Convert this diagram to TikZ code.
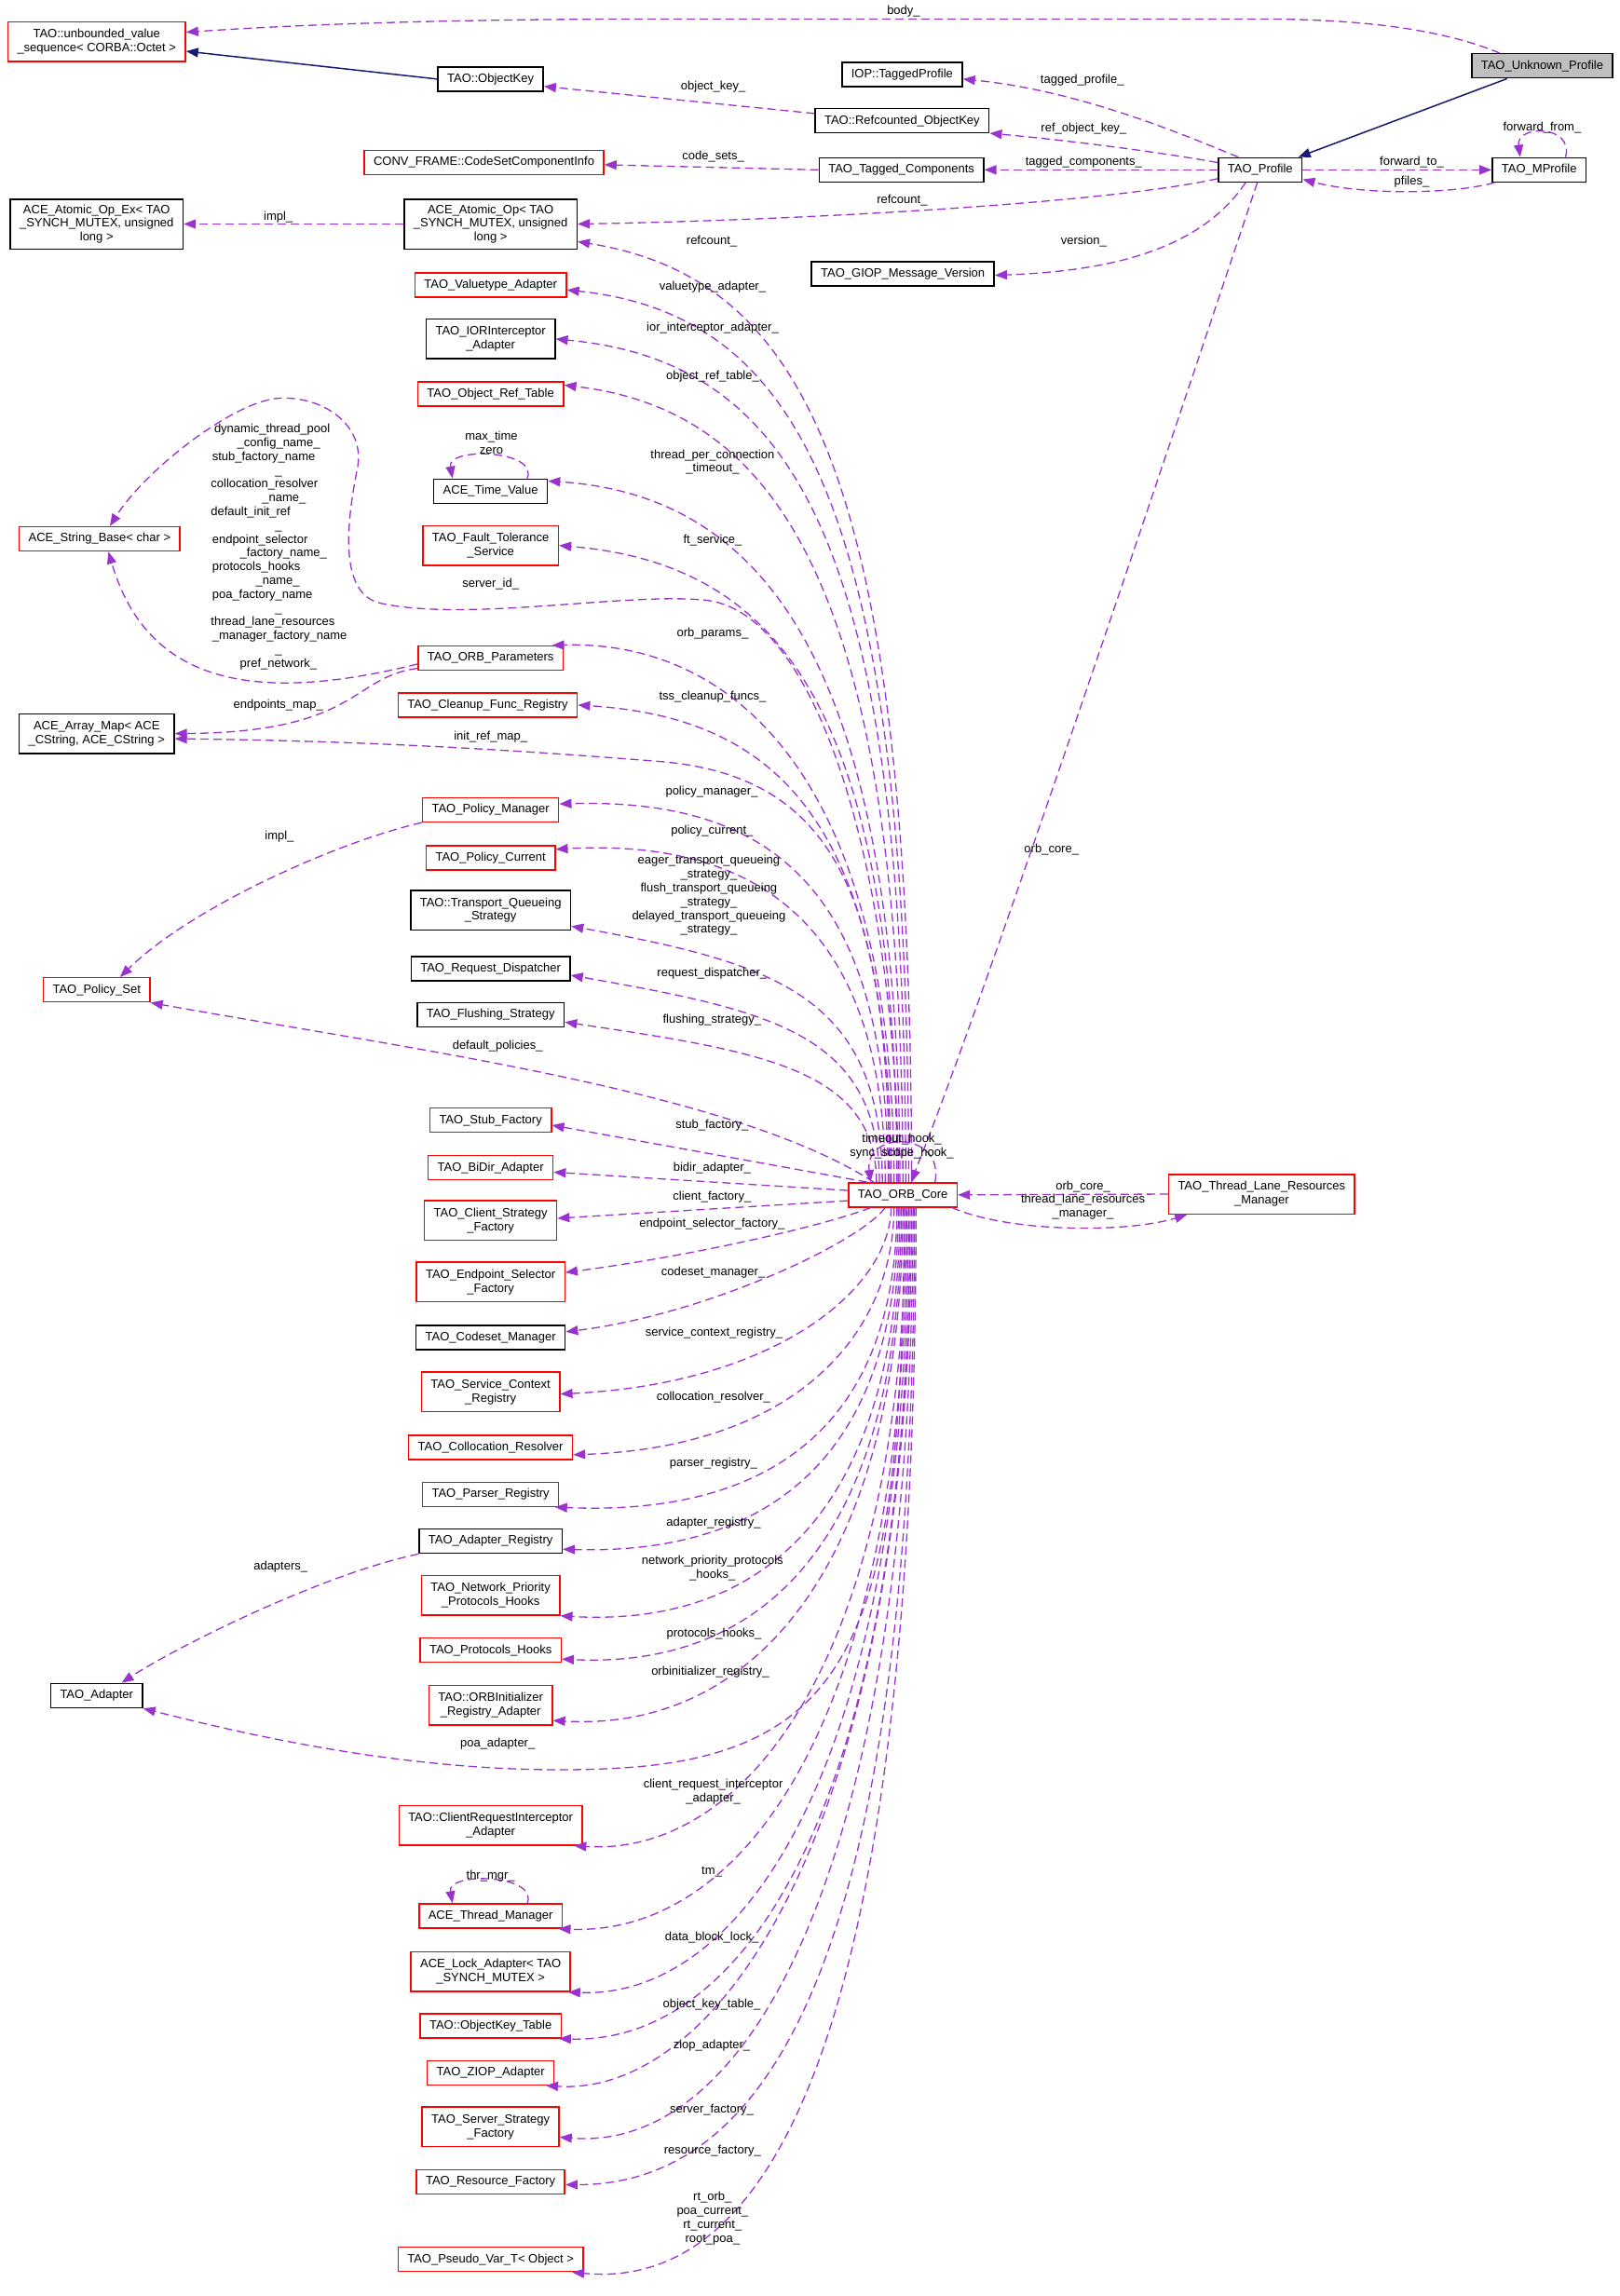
\documentclass[tikz,border=0pt]{standalone}
\usepackage{fontspec}
\setmainfont{Liberation Sans}
\usetikzlibrary{arrows.meta,calc}
\definecolor{depc}{HTML}{9A32CD}
\definecolor{navyc}{HTML}{191970}
\definecolor{boxred}{HTML}{FF0000}
\definecolor{grayfill}{HTML}{BFBFBF}
\newcommand\lblfont{\fontsize{13pt}{14.8pt}\selectfont}
\begin{document}
\begin{tikzpicture}[x=1.5723pt,y=-1.5723pt,
  box/.style={rectangle,draw,line width=1.5pt,font=\lblfont,align=center,inner xsep=10pt,inner ysep=0pt,minimum height=26pt,fill=white},
  rbox/.style={box,draw=boxred},
  bbox/.style={box,draw=black},
  two/.style={minimum height=42.5pt},
  three/.style={minimum height=53.5pt},
  dep/.style={draw=depc,line width=1.3pt,dash pattern=on 9pt off 5pt,-{Triangle[length=13pt,width=10pt]}},
  inh/.style={draw=navyc,line width=1.5pt,-{Triangle[length=13pt,width=10pt]}},
  lab/.style={font=\lblfont,inner sep=0pt,align=center}]
\useasboundingbox (0,0) rectangle (1106,1568);
\fill[white] (0,0) rectangle (1106,1568);

% ---------- nodes ----------
\node[rbox,two] (unb) at (66,28.5) {TAO::unbounded\_value\\\_sequence< CORBA::Octet >};
\node[bbox] (objkey) at (335,54) {TAO::ObjectKey};
\node[bbox] (iop) at (616,51) {IOP::TaggedProfile};
\node[bbox] (refobj) at (616,82.5) {TAO::Refcounted\_ObjectKey};
\node[bbox,fill=grayfill] (unknown) at (1053,45) {TAO\_Unknown\_Profile};
\node[bbox] (profile) at (860.5,116) {TAO\_Profile};
\node[bbox] (mprofile) at (1051,116) {TAO\_MProfile};
\node[rbox] (codeset) at (330.5,111) {CONV\_FRAME::CodeSetComponentInfo};
\node[bbox] (tagged) at (615.5,116) {TAO\_Tagged\_Components};
\node[bbox,three] (atomicex) at (66,153) {ACE\_Atomic\_Op\_Ex< TAO\\\_SYNCH\_MUTEX, unsigned\\long >};
\node[bbox,three] (atomic) at (335,153) {ACE\_Atomic\_Op< TAO\\\_SYNCH\_MUTEX, unsigned\\long >};
\node[bbox] (giop) at (616.5,187) {TAO\_GIOP\_Message\_Version};
\node[rbox] (valuetype) at (335,194.5) {TAO\_Valuetype\_Adapter};
\node[bbox,two] (ior) at (335,231.5) {TAO\_IORInterceptor\\\_Adapter};
\node[rbox] (objref) at (335,269) {TAO\_Object\_Ref\_Table};
\node[bbox] (timeval) at (335,335.5) {ACE\_Time\_Value};
\node[rbox] (strbase) at (68,368) {ACE\_String\_Base< char >};
\node[rbox,two] (ft) at (335,372.5) {TAO\_Fault\_Tolerance\\\_Service};
\node[rbox] (orbparams) at (335,449.5) {TAO\_ORB\_Parameters};
\node[bbox,two] (arraymap) at (66,501) {ACE\_Array\_Map< ACE\\\_CString, ACE\_CString >};
\node[rbox] (cleanup) at (333,481.5) {TAO\_Cleanup\_Func\_Registry};
\node[rbox] (polman) at (335,553) {TAO\_Policy\_Manager};
\node[rbox] (polcur) at (335,586) {TAO\_Policy\_Current};
\node[bbox,two] (tqs) at (335,621.5) {TAO::Transport\_Queueing\\\_Strategy};
\node[bbox] (reqdisp) at (335,661.5) {TAO\_Request\_Dispatcher};
\node[bbox] (flush) at (335,693) {TAO\_Flushing\_Strategy};
\node[rbox] (polset) at (66,676) {TAO\_Policy\_Set};
\node[rbox] (stub) at (335,765) {TAO\_Stub\_Factory};
\node[rbox] (bidir) at (335,797.5) {TAO\_BiDir\_Adapter};
\node[rbox,two] (clientstrat) at (335,833.5) {TAO\_Client\_Strategy\\\_Factory};
\node[rbox] (orbcore) at (616.5,816) {TAO\_ORB\_Core};
\node[rbox,two] (tlrm) at (861.5,815.5) {TAO\_Thread\_Lane\_Resources\\\_Manager};
\node[rbox,two] (endpoint) at (335,875.5) {TAO\_Endpoint\_Selector\\\_Factory};
\node[bbox] (codesetmgr) at (335,913.5) {TAO\_Codeset\_Manager};
\node[rbox,two] (scr) at (335,950.5) {TAO\_Service\_Context\\\_Registry};
\node[rbox] (collres) at (335,988.5) {TAO\_Collocation\_Resolver};
\node[rbox] (parser) at (335,1020.5) {TAO\_Parser\_Registry};
\node[bbox] (adapreg) at (335,1052.5) {TAO\_Adapter\_Registry};
\node[rbox,two] (netprio) at (335,1089.5) {TAO\_Network\_Priority\\\_Protocols\_Hooks};
\node[rbox] (protohooks) at (335,1127) {TAO\_Protocols\_Hooks};
\node[rbox,two] (orbinit) at (335,1164.5) {TAO::ORBInitializer\\\_Registry\_Adapter};
\node[bbox] (adapter) at (66,1158) {TAO\_Adapter};
\node[rbox,two] (cri) at (335,1246.5) {TAO::ClientRequestInterceptor\\\_Adapter};
\node[rbox] (thrmgr) at (335,1308.5) {ACE\_Thread\_Manager};
\node[rbox,two] (lockad) at (335,1346.5) {ACE\_Lock\_Adapter< TAO\\\_SYNCH\_MUTEX >};
\node[rbox] (okt) at (335,1383.5) {TAO::ObjectKey\_Table};
\node[rbox] (ziop) at (335,1415.5) {TAO\_ZIOP\_Adapter};
\node[rbox,two] (serverstrat) at (335,1452.5) {TAO\_Server\_Strategy\\\_Factory};
\node[rbox] (resfac) at (335,1490) {TAO\_Resource\_Factory};
\node[rbox] (pseudovar) at (335,1543) {TAO\_Pseudo\_Var\_T< Object >};

% ---------- inheritance ----------
\draw[inh] ($(unknown.south)+(-24,0)$) -- ($(profile.north east)+(-3,0)$);
\draw[inh] (objkey.west) -- ($(unb.east)+(0,6.5)$);

% ---------- top area ----------
\draw[dep] ($(unknown.north)+(-29,0)$) .. controls (985,20) and (930,13) .. (860,13) -- (450,13) .. controls (300,13) and (200,17) .. ($(unb.east)+(0,-6.5)$);
\draw[dep] ($(refobj.west)+(0,-5)$) -- ($(objkey.east)+(0,5)$);
\draw[dep] ($(profile.north)+(-15,0)$) .. controls (815,95) and (740,62) .. ($(iop.east)+(0,3)$);
\draw[dep] ($(profile.west)+(0,-5)$) .. controls (780,102) and (720,95) .. ($(refobj.east)+(0,8.5)$);
\draw[dep] (profile.west) -- (tagged.east);
\draw[dep] (tagged.west) -- ($(codeset.east)+(0,1.5)$);
\draw[dep] (atomic.west) -- (atomicex.east);
\draw[dep] ($(profile.west)+(0,6)$) .. controls (760,138) and (560,150) .. (atomic.east);
\draw[dep] ($(profile.south)+(-10,0)$) .. controls (820,170) and (760,185) .. ($(giop.east)+(0,1)$);
\draw[dep] ($(profile.south)+(-2,0)$) .. controls (650,750) and (630,785) .. ($(orbcore.north)+(6,0)$);
\draw[dep] (profile.east) -- (mprofile.west);
\draw[dep] ($(mprofile.south west)+(2,0)$) .. controls (990,133) and (930,133) .. ($(profile.east)+(0,6.5)$);
\draw[dep] ($(mprofile.north)+(18,0)$) .. controls (1075,85) and (1035,85) .. ($(mprofile.north)+(-13,0)$);

% ---------- ORB core upward edges ----------
\draw[dep] ($(orbcore.north)+(6,0)$) .. controls (622,325) and (550,190) .. ($(atomic.east)+(0,12)$);
\draw[dep] ($(orbcore.north)+(4,0)$) .. controls (620,350) and (548,215) .. ($(valuetype.east)+(0,3.5)$);
\draw[dep] ($(orbcore.north)+(2,0)$) .. controls (618,375) and (545,247) .. (ior.east);
\draw[dep] ($(orbcore.north)+(0,0)$) .. controls (616,400) and (530,280) .. ($(objref.east)+(0,-6)$);
\draw[dep] ($(orbcore.north)+(-2,0)$) .. controls (614,450) and (520,338) .. ($(timeval.east)+(0,-7)$);
\draw[dep] ($(orbcore.north)+(-4,0)$) .. controls (612,480) and (530,385) .. (ft.east);
\draw[dep] ($(orbcore.north)+(-6,0)$) .. controls (610,530) and (500,437) .. ($(orbparams.north east)+(-8,0)$);
\draw[dep] ($(orbcore.north)+(-8,0)$) .. controls (608,560) and (530,490) .. (cleanup.east);
\draw[dep] ($(orbcore.north)+(-10,0)$) .. controls (606,610) and (530,545) .. ($(polman.east)+(0,-4)$);
\draw[dep] ($(orbcore.north)+(-12,0)$) .. controls (604,640) and (525,572) .. ($(polcur.east)+(0,-6)$);
\draw[dep] ($(orbcore.north)+(-14,0)$) .. controls (602,680) and (530,658) .. ($(tqs.east)+(0,11)$);
\draw[dep] ($(orbcore.north)+(-16,0)$) .. controls (600,705) and (525,690) .. ($(reqdisp.east)+(0,4.5)$);
\draw[dep] ($(orbcore.north)+(-18,0)$) .. controls (598,730) and (520,718) .. ($(flush.east)+(0,5)$);
\draw[dep] ($(orbcore.north)+(-20,0)$) .. controls (500,745) and (283,717) .. (polset.south east);
\draw[dep] ($(orbcore.north west)+(13,0)$) -- ($(stub.east)+(0,3.4)$);
\draw[dep] ($(orbcore.west)+(0,-3)$) -- ($(bidir.east)+(0,3)$);
\draw[dep] ($(orbcore.west)+(0,4)$) -- ($(clientstrat.east)+(0,-1.5)$);
% server_id_
\draw[dep] ($(orbcore.north)+(-3,0)$) .. controls (612,600) and (560,420) .. (483,410)
   .. controls (430,404) and (320,425) .. (260,412)
   .. controls (232,406) and (236,360) .. (244,320)
   .. controls (250,290) and (220,270) .. (190,272)
   .. controls (160,274) and (100,320) .. ($(strbase.north)+(7,0)$);
% init_ref_map_
\draw[dep] ($(orbcore.north)+(-9,0)$) .. controls (606,620) and (575,530) .. (450,520)
   .. controls (350,512) and (250,506) .. ($(arraymap.east)+(0,3.5)$);
% orb params -> string base / array map
\draw[dep] ($(orbparams.west)+(0,4)$) .. controls (170,482) and (100,465) .. ($(strbase.south)+(6,0)$);
\draw[dep] ($(orbparams.west)+(0,7)$) .. controls (240,462) and (245,500) .. (arraymap.east);
% policy manager -> policy set
\draw[dep] (polman.south west) .. controls (230,575) and (130,620) .. ($(polset.north)+(16,0)$);
% adapter registry -> adapter
\draw[dep] (adapreg.south west) .. controls (220,1075) and (120,1125) .. ($(adapter.north)+(17,0)$);

% ---------- ORB core downward edges ----------
\draw[dep] ($(orbcore.south)+(-22,0)$) .. controls (560,838) and (470,858) .. ($(endpoint.east)+(0,-6.5)$);
\draw[dep] ($(orbcore.south)+(-12,0)$) .. controls (585,850) and (480,898) .. ($(codesetmgr.east)+(0,-4)$);
\draw[dep] ($(orbcore.south)+(-8,0)$) .. controls (608,880) and (530,945) .. ($(scr.east)+(0,1.5)$);
\draw[dep] ($(orbcore.south)+(-6,0)$) .. controls (610,910) and (545,988) .. ($(collres.east)+(0,5)$);
\draw[dep] ($(orbcore.south)+(-4,0)$) .. controls (612,960) and (540,1036) .. ($(parser.south east)+(-3,0)$);
\draw[dep] ($(orbcore.south)+(-3,0)$) .. controls (613,990) and (530,1062) .. ($(adapreg.east)+(0,5.5)$);
\draw[dep] ($(orbcore.south)+(-2,0)$) .. controls (614,1020) and (530,1112) .. (netprio.south east);
\draw[dep] ($(orbcore.south)+(-1,0)$) .. controls (615,1040) and (530,1140) .. ($(protohooks.east)+(0,6)$);
\draw[dep] ($(orbcore.south)+(0,0)$) .. controls (616,1060) and (520,1183) .. ($(orbinit.east)+(0,10.5)$);
\draw[dep] ($(orbcore.south)+(1,0)$) .. controls (616,1100) and (590,1195) .. (430,1207)
   .. controls (300,1216) and (170,1185) .. (adapter.south east);
\draw[dep] ($(orbcore.south)+(2,0)$) .. controls (618,1130) and (510,1268) .. ($(cri.south east)+(-6,0)$);
\draw[dep] ($(orbcore.south)+(3,0)$) .. controls (619,1170) and (510,1322) .. ($(thrmgr.south east)+(-3,0)$);
\draw[dep] ($(orbcore.south)+(4,0)$) .. controls (620,1200) and (510,1365) .. ($(lockad.south east)+(-2,0)$);
\draw[dep] ($(orbcore.south)+(5,0)$) .. controls (621,1230) and (510,1396) .. ($(okt.south east)+(-2,0)$);
\draw[dep] ($(orbcore.south)+(6,0)$) .. controls (622,1250) and (490,1432) .. ($(ziop.south east)+(-6,0)$);
\draw[dep] ($(orbcore.south)+(7,0)$) .. controls (623,1280) and (510,1470) .. ($(serverstrat.east)+(0,7)$);
\draw[dep] ($(orbcore.south)+(8,0)$) .. controls (624,1300) and (540,1492) .. ($(resfac.east)+(0,2)$);
\draw[dep] ($(orbcore.south)+(9,0)$) .. controls (625,1350) and (540,1566) .. ($(pseudovar.south east)+(-8,0)$);

% ---------- ORB core <-> thread lane ----------
\draw[dep] (tlrm.west) -- (orbcore.east);
\draw[dep] ($(orbcore.south east)+(-4,0)$) .. controls (690,842) and (770,842) .. ($(tlrm.south west)+(13,0)$);

% ---------- self loops ----------
\draw[dep] ($(orbcore.north)+(22,0)$) .. controls (645,772) and (590,772) .. ($(orbcore.north)+(-22,0)$);
\draw[dep] ($(timeval.north)+(25,0)$) .. controls (368,307) and (305,305) .. ($(timeval.north)+(-26,0)$);
\draw[dep] ($(thrmgr.north)+(25,0)$) .. controls (368,1280) and (305,1278) .. ($(thrmgr.north)+(-26,0)$);

% ---------- labels ----------
\node[lab] (Lbody) at (617,8) {body\_};
\node[lab] (Lobjkey) at (487,59) {object\_key\_};
\node[lab] (Ltprof) at (739,55) {tagged\_profile\_};
\node[lab] (Lrefobj) at (740,88) {ref\_object\_key\_};
\node[lab] (Ltcomp) at (740,111) {tagged\_components\_};
\node[lab] (Lcodesets) at (487,107) {code\_sets\_};
\node[lab] (Limpla) at (190,148) {impl\_};
\node[lab] (Lrefc1) at (616,137) {refcount\_};
\node[lab] (Lrefc2) at (486,165) {refcount\_};
\node[lab] (Lversion) at (740,165) {version\_};
\node[lab] (Lfwdto) at (964,111) {forward\_to\_};
\node[lab] (Lpfiles) at (964,124) {pfiles\_};
\node[lab] (Lfwdfrom) at (1053,87) {forward\_from\_};
\node[lab] (Lorbcore1) at (718,580) {orb\_core\_};
\node[lab] (Lvaluetype) at (486.6,195.7) {valuetype\_adapter\_};
\node[lab] (Lior) at (486.6,224.3) {ior\_interceptor\_adapter\_};
\node[lab] (Lobjref) at (486.6,257.2) {object\_ref\_table\_};
\node[lab] (Ltpc) at (486.6,315.5) {thread\_per\_connection\\\_timeout\_};
\node[lab] (Lmaxtime) at (335.5,302.5) {max\_time\\zero};
\node[lab] (Lft) at (486.6,369.3) {ft\_service\_};
\node[lab] (Lserverid) at (335,398.6) {server\_id\_};
\node[lab] (Lorbparams) at (486.6,432.5) {orb\_params\_};
\node[lab] (Ltss) at (486.6,476) {tss\_cleanup\_funcs\_};
\node[lab] (Lendpmap) at (190,481.3) {endpoints\_map\_};
\node[lab] (Linitref) at (335,503.5) {init\_ref\_map\_};
\node[lab,align=left,anchor=west] (Lstrings) at (143.9,373.5) {\hspace*{3.6pt}dynamic\_thread\_pool\\
\hspace*{28.2pt}\_config\_name\_\\
\hspace*{1.4pt}stub\_factory\_name\\
\hspace*{69pt}\_\\
collocation\_resolver\\
\hspace*{55pt}\_name\_\\
default\_init\_ref\\
\hspace*{69pt}\_\\
\hspace*{1.4pt}endpoint\_selector\\
\hspace*{31.3pt}\_factory\_name\_\\
\hspace*{1.4pt}protocols\_hooks\\
\hspace*{48.2pt}\_name\_\\
\hspace*{1.4pt}poa\_factory\_name\\
\hspace*{69pt}\_\\
thread\_lane\_resources\\
\hspace*{1.4pt}\_manager\_factory\_name\\
\hspace*{69pt}\_\\
\hspace*{31.3pt}pref\_network\_};
\node[lab] (Limplp) at (190.8,571.3) {impl\_};
\node[lab] (Lpolman) at (486,541) {policy\_manager\_};
\node[lab] (Lpolcur) at (486.2,567.4) {policy\_current\_};
\node[lab] (Lqueue) at (484,611.6) {eager\_transport\_queueing\\\_strategy\_\\flush\_transport\_queueing\\\_strategy\_\\delayed\_transport\_queueing\\\_strategy\_};
\node[lab] (Lreqdisp) at (486.2,665) {request\_dispatcher\_};
\node[lab] (Lflush) at (486.2,696.3) {flushing\_strategy\_};
\node[lab] (Ldefpol) at (339.8,714.3) {default\_policies\_};
\node[lab] (Lstub) at (486.2,768.4) {stub\_factory\_};
\node[lab] (Lbidir) at (486.2,798) {bidir\_adapter\_};
\node[lab] (Lclient) at (486.2,817.5) {client\_factory\_};
\node[lab] (Lendpoint) at (486.2,836) {endpoint\_selector\_factory\_};
\node[lab] (Lhooks) at (615.8,783) {timeout\_hook\_\\sync\_scope\_hook\_};
\node[lab] (Ltlrm) at (739.5,819.7) {orb\_core\_\\thread\_lane\_resources\\\_manager\_};
\node[lab] (Lcodesetmgr) at (487,869.3) {codeset\_manager\_};
\node[lab] (Lscr) at (487.6,910.5) {service\_context\_registry\_};
\node[lab] (Lcollres) at (487.2,954.4) {collocation\_resolver\_};
\node[lab] (Lparser) at (487.2,999.6) {parser\_registry\_};
\node[lab] (Ladapreg) at (487.2,1040.3) {adapter\_registry\_};
\node[lab] (Lnetprio) at (486.5,1071) {network\_priority\_protocols\\\_hooks\_};
\node[lab] (Lprotohooks) at (487.6,1115.8) {protocols\_hooks\_};
\node[lab] (Lorbinit) at (485,1141.6) {orbinitializer\_registry\_};
\node[lab] (Lpoa) at (339.8,1190.6) {poa\_adapter\_};
\node[lab] (Ladapters) at (191.6,1070.2) {adapters\_};
\node[lab] (Lcri) at (487,1223.6) {client\_request\_interceptor\\\_adapter\_};
\node[lab] (Lthrmgr) at (335,1281) {thr\_mgr\_};
\node[lab] (Ltm) at (486,1278) {tm\_};
\node[lab] (Ldbl) at (486,1323) {data\_block\_lock\_};
\node[lab] (Lokt) at (486,1369) {object\_key\_table\_};
\node[lab] (Lziop) at (486,1397) {ziop\_adapter\_};
\node[lab] (Lserver) at (486,1441) {server\_factory\_};
\node[lab] (Lresfac) at (486.5,1468.8) {resource\_factory\_};
\node[lab] (Lrt) at (486.5,1515) {rt\_orb\_\\poa\_current\_\\rt\_current\_\\root\_poa\_};
\end{tikzpicture}
\end{document}
